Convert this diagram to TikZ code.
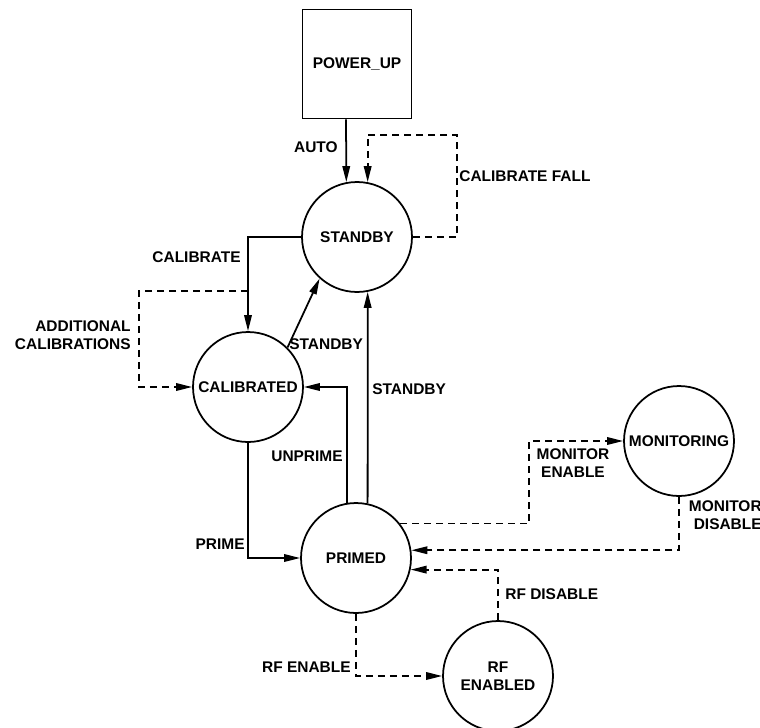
\documentclass[tikz,border=0pt]{standalone}
\usepackage{fontspec}
\setmainfont{Liberation Sans}
\usepackage{tikz}
\usetikzlibrary{positioning,arrows.meta}
\newcommand{\lblfont}{\fontsize{8.8}{10.2}\selectfont\bfseries}

\begin{document}
\begin{tikzpicture}[x=0.02cm,y=-0.02cm,
  state/.style={circle,draw,line width=1pt,minimum size=2.2cm,inner sep=0pt,align=center,font=\lblfont},
  startbox/.style={rectangle,draw,line width=1pt,minimum size=2.18cm,inner sep=0pt,font=\lblfont},
  trans/.style={line width=1pt,-{Triangle[length=0.32cm,width=0.15cm]}},
  opt/.style={trans,dash pattern=on 0.14cm off 0.1cm},
  lbl/.style={inner sep=0pt,align=right,font=\lblfont}]
\useasboundingbox (0,0) rectangle (760,727);

% States
\node[startbox] (powerup) at (357,64) {POWER\_UP};
\node[state] (standby) at (357,237) {STANDBY};
\node[state] (calibrated) at (248,387) {CALIBRATED};
\node[state] (primed) at (356,558) {PRIMED};
\node[state] (monitoring) at (679,441) {MONITORING};
\node[state] (rfenabled) at (498,676) {RF\\ENABLED};

% Solid transitions
\draw[trans] ([xshift=-0.22cm]powerup.south) -- (standby.101);
\draw[trans] (standby.west) -| (calibrated.north);
\draw[trans] (calibrated.45) -- (standby.228);
\draw[trans] (calibrated.south) |- (primed.west);
\draw[trans] (primed.99) |- (calibrated.east);
\draw[trans] (primed.78) -- (standby.281);

% Dashed transitions
\coordinate (calsplit) at (248,291);
\draw[opt] (standby.east) -| (457,135) -| (standby.79);
\draw[opt] (calsplit) -- ++(-109,0) |- (calibrated.west);
\draw[opt] (primed.38) -| (529,441) -- (monitoring.west);
\draw[opt] (monitoring.south) |- (primed.8);
\draw[opt] (primed.south) |- (rfenabled.west);
\draw[opt] (rfenabled.north) |- (primed.-12);

% Labels
\node[lbl,anchor=east] (lblauto) at (338,147) {AUTO};
\node[lbl,anchor=west] (lblfall) at (459,176) {CALIBRATE FALL};
\node[lbl,anchor=east] (lblcal) at (241,257) {CALIBRATE};
\node[lbl,anchor=east] (lbladd) at (131,335) {ADDITIONAL\\CALIBRATIONS};
\node[lbl,anchor=west] (lblstby) at (289,344) {STANDBY};
\node[lbl,anchor=west] (lblstbyb) at (372,389) {STANDBY};
\node[lbl,anchor=east] (lblunprime) at (343,456) {UNPRIME};
\node[lbl,anchor=east] (lblprime) at (245,544) {PRIME};
\node[lbl,align=center] (lblmonen) at (573,463) {MONITOR\\ENABLE};
\node[lbl,anchor=east] (lblmondis) at (762,515) {MONITOR\\DISABLE};
\node[lbl,anchor=west] (lblrfdis) at (505,594) {RF DISABLE};
\node[lbl,anchor=east] (lblrfen) at (351,667) {RF ENABLE};
\end{tikzpicture}
\end{document}
